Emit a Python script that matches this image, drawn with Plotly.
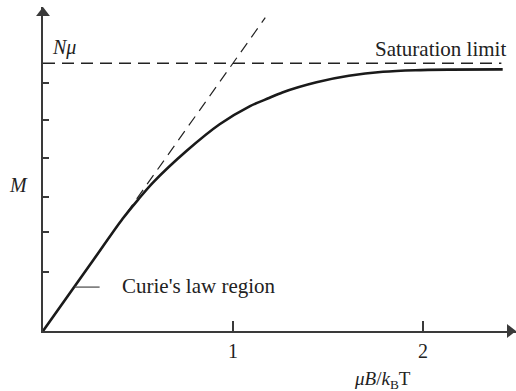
import plotly.graph_objects as go

# Magnetisation M (in units of Nμ) against μB/k_BT
x_vals = [0.0, 0.25, 0.42, 0.50, 0.58, 0.755, 0.93, 1.09, 1.19, 1.26, 1.44, 1.61, 1.79, 1.96, 2.14, 2.42]
m_vals = [0.0, 0.25, 0.42, 0.49, 0.555, 0.672, 0.772, 0.840, 0.870, 0.891, 0.929, 0.953, 0.968, 0.974, 0.976, 0.977]

# Curie's-law tangent and saturation level
tangent_x = [0.0, 1.17]
tangent_m = [0.0, 1.17]
sat_x = [0.0, 2.413]
sat_m = [1.0, 1.0]

# Axis tick positions
x_ticks = [1, 2]
x_tick_text = ["1", "2"]
y_ticks = [0.22, 0.37, 0.50, 0.646, 0.787, 0.925]

# Leader line for the Curie's law label
leader_x = [0.167, 0.298]
leader_m = [0.164, 0.164]

X_MAX, Y_MAX = 2.49, 1.21

FONT = "Liberation Serif, Times New Roman, serif"
INK = "#222222"
AXIS = "#3a3a3a"

W, H = 516, 391
L, R, T, B = 43, 0, 7, 60
PW, PH = W - L - R, H - T - B

fig = go.Figure()

fig.add_trace(go.Scatter(x=sat_x, y=sat_m, mode="lines",
                         line=dict(color=INK, width=1.3, dash="12px,7px"),
                         hoverinfo="skip"))
fig.add_trace(go.Scatter(x=tangent_x, y=tangent_m, mode="lines",
                         line=dict(color=INK, width=1.2, dash="11px,7px"),
                         hoverinfo="skip"))
fig.add_trace(go.Scatter(x=x_vals, y=m_vals, mode="lines",
                         line=dict(color="#1a1a1a", width=2.6, shape="spline", smoothing=0.8),
                         hoverinfo="skip"))
fig.add_trace(go.Scatter(x=leader_x, y=leader_m, mode="lines",
                         line=dict(color="#555555", width=1.3),
                         hoverinfo="skip"))

# Arrowheads at the ends of both axes (centred half a head inside the tip)
head = 6
fig.add_trace(go.Scatter(x=[X_MAX - head / PW * X_MAX], y=[0], mode="markers",
                         marker=dict(symbol="triangle-right", size=12, color=AXIS),
                         cliponaxis=False, hoverinfo="skip"))
fig.add_trace(go.Scatter(x=[0], y=[Y_MAX - head / PH * Y_MAX], mode="markers",
                         marker=dict(symbol="triangle-up", size=12, color=AXIS),
                         cliponaxis=False, hoverinfo="skip"))


def label(px, py, text, size, xanchor="center"):
    """Place a label at a page pixel position."""
    fig.add_annotation(x=(px - L) / PW, y=1 - (py - T) / PH, xref="paper", yref="paper",
                       text=text, showarrow=False, xanchor=xanchor, yanchor="middle",
                       font=dict(family=FONT, size=size, color=INK))


label(50, 47, "<i>Nμ</i>", 20, "left")
label(18, 185, "<i>M</i>", 20)
label(508, 49, "Saturation limit", 21, "right")
label(120, 286, "Curie's law region", 21, "left")
label(382, 380, "<i>μB</i>/<i>k</i><sub>B</sub>T", 19)

fig.update_xaxes(range=[0, X_MAX], showgrid=False, zeroline=False,
                 showline=True, linecolor=AXIS, linewidth=1.5,
                 tickvals=x_ticks, ticktext=x_tick_text, ticks="inside", ticklen=10,
                 tickwidth=1.5, tickcolor=AXIS, ticklabelstandoff=1,
                 tickfont=dict(family=FONT, size=20, color=INK))
fig.update_yaxes(range=[0, Y_MAX], showgrid=False, zeroline=False,
                 showline=True, linecolor=AXIS, linewidth=1.5,
                 tickvals=y_ticks, ticks="inside", ticklen=6, tickwidth=1.5,
                 tickcolor=AXIS, showticklabels=False)

fig.update_layout(width=W, height=H, margin=dict(l=L, r=R, t=T, b=B),
                  paper_bgcolor="white", plot_bgcolor="white", showlegend=False)

fig.write_html("out.html")
